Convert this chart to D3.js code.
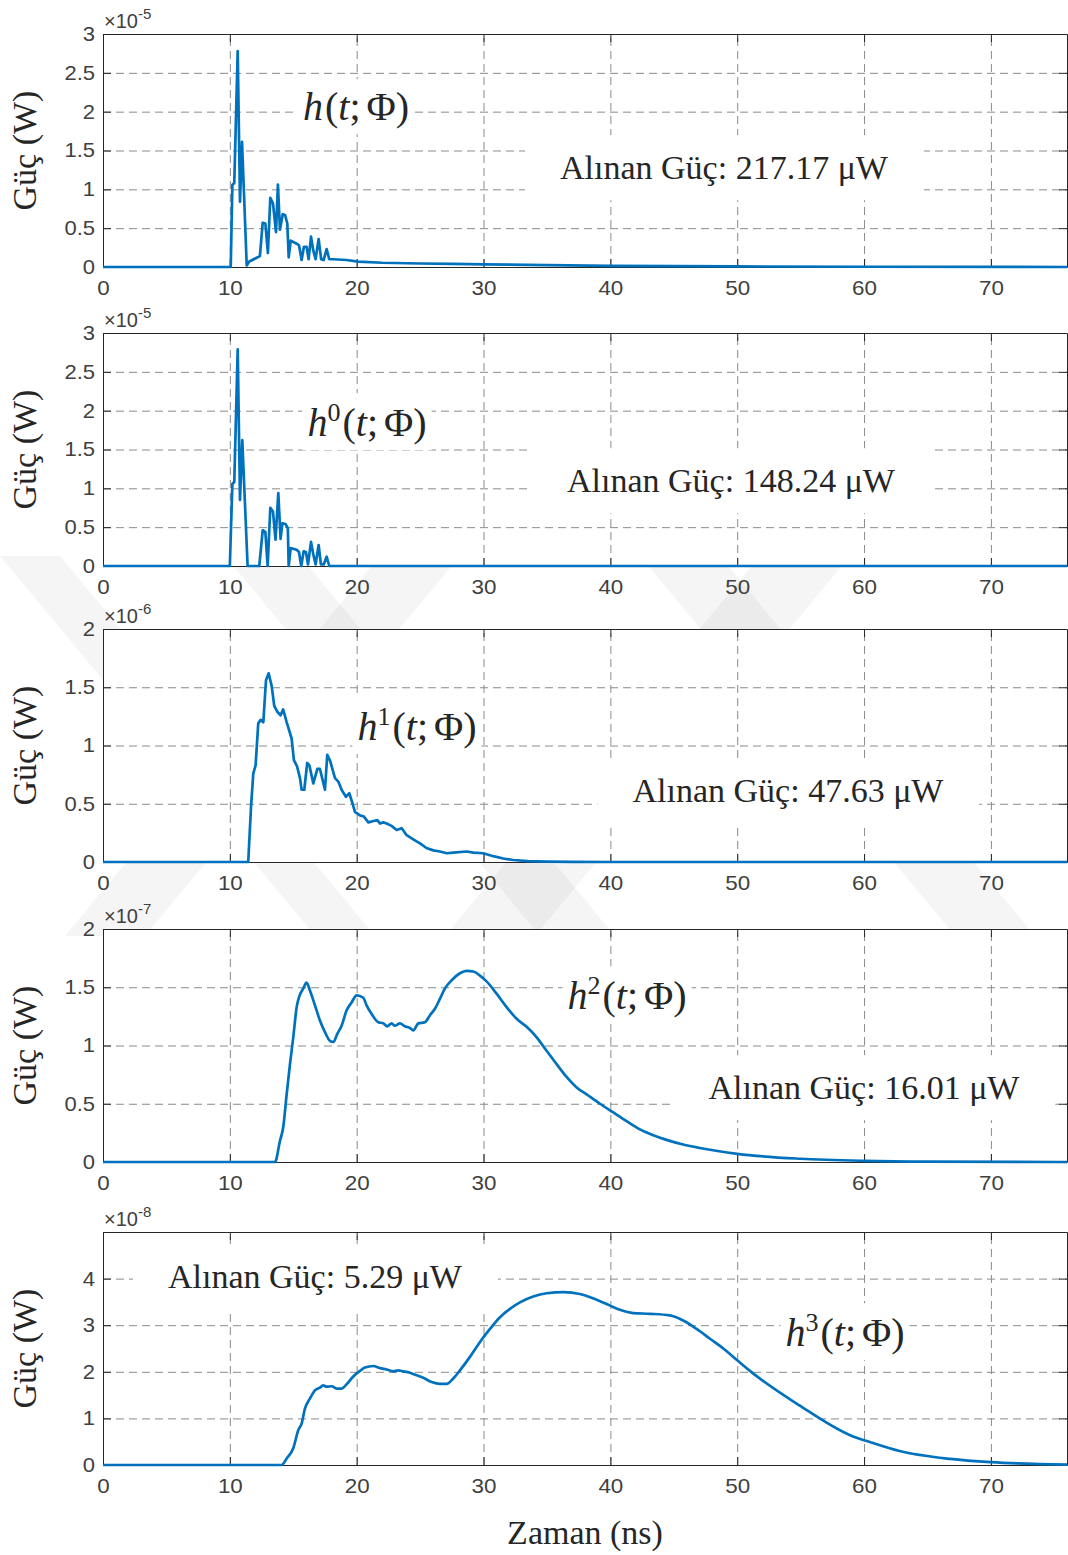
<!DOCTYPE html>
<html>
<head>
<meta charset="utf-8">
<script src="https://cdn.jsdelivr.net/npm/d3@7/dist/d3.min.js"></script>
<style>
  body { margin: 0; background: #fff; }
  text { fill: #262626; }
  .tick text { font-family: "Liberation Sans", Arial, sans-serif; font-size: 20px; fill: #404040; }
  .serif { font-family: "Liberation Serif", "Times New Roman", serif; }
</style>
</head>
<body>
<div id="chart"></div>
<script>
// time axis, ns
var xTicks = [0, 10, 20, 30, 40, 50, 60, 70];

// h(t;Φ)  (x1e-5 W)
var h_t = [0, 10.07, 10.2, 10.35, 10.62, 10.8, 10.96, 11.33, 11.53, 12.37, 12.59, 12.8, 13.0, 13.19, 13.4, 13.64, 13.79, 13.95, 14.17, 14.35, 14.53, 14.64, 14.8, 15.27, 15.45, 15.66, 15.84, 16.05, 16.21, 16.4, 16.58, 16.76, 17.0, 17.2, 17.4, 17.63, 17.84, 18.16, 19.2, 20.1, 22, 25, 27.5, 30, 35, 40, 50, 60, 76];
var h_v = [0, 0, 1.06, 1.08, 2.78, 0.84, 1.61, 0.02, 0.07, 0.14, 0.57, 0.56, 0.18, 0.89, 0.82, 0.45, 1.06, 0.48, 0.68, 0.67, 0.56, 0.125, 0.34, 0.30, 0.28, 0.09, 0.26, 0.26, 0.10, 0.39, 0.21, 0.10, 0.36, 0.10, 0.09, 0.23, 0.10, 0.10, 0.09, 0.07, 0.055, 0.045, 0.04, 0.035, 0.025, 0.015, 0.007, 0.003, 0];

// h0(t;Φ)  (x1e-5 W)
var h0_t = [0, 10.0, 10.2, 10.35, 10.62, 10.8, 10.98, 11.4, 12.32, 12.59, 12.8, 12.98, 13.19, 13.4, 13.6, 13.82, 14.0, 14.14, 14.38, 14.57, 14.64, 14.8, 15.27, 15.45, 15.63, 15.82, 16.0, 16.16, 16.4, 16.58, 16.76, 17.0, 17.18, 17.4, 17.63, 17.84, 76];
var h0_v = [0, 0, 1.06, 1.08, 2.79, 0.85, 1.62, 0, 0, 0.46, 0.44, 0, 0.75, 0.70, 0.34, 0.94, 0.35, 0.55, 0.54, 0.49, 0, 0.23, 0.21, 0.18, 0, 0.19, 0.18, 0.02, 0.31, 0.15, 0.02, 0.27, 0.02, 0.02, 0.12, 0, 0];

// h1(t;Φ)  (x1e-6 W)
var h1_t = [0, 11.45, 11.67, 11.85, 12.03, 12.24, 12.43, 12.64, 12.85, 13.06, 13.3, 13.5, 13.74, 14.0, 14.2, 14.48, 14.87, 15.05, 15.3, 15.53, 15.66, 15.87, 16.1, 16.27, 16.58, 16.9, 17.1, 17.5, 17.68, 17.9, 18.29, 18.55, 18.81, 19.15, 19.42, 19.68, 19.86, 20.26, 20.57, 20.92, 21.26, 21.63, 21.84, 22.1, 22.36, 22.75, 23.15, 23.55, 23.94, 24.46, 24.99, 25.5, 26.04, 26.56, 27.1, 27.6, 28.67, 29.2, 29.98, 30.77, 31.55, 32.35, 33.5, 35, 37, 40, 76];
var h1_v = [0, 0, 0.475, 0.76, 0.83, 1.19, 1.22, 1.20, 1.56, 1.62, 1.51, 1.34, 1.29, 1.26, 1.31, 1.20, 1.06, 0.875, 0.82, 0.72, 0.62, 0.62, 0.85, 0.83, 0.675, 0.80, 0.80, 0.62, 0.92, 0.87, 0.72, 0.69, 0.62, 0.56, 0.59, 0.50, 0.43, 0.40, 0.39, 0.34, 0.35, 0.36, 0.33, 0.34, 0.33, 0.31, 0.275, 0.29, 0.23, 0.195, 0.16, 0.12, 0.10, 0.09, 0.075, 0.08, 0.09, 0.08, 0.075, 0.05, 0.03, 0.017, 0.008, 0.003, 0.001, 0, 0];

// h2(t;Φ)  (x1e-7 W)
var h2_t = [0, 13.56, 13.95, 14.21, 14.48, 14.74, 15.0, 15.27, 15.47, 15.79, 16.05, 16.32, 16.71, 17.1, 17.5, 17.89, 18.16, 18.47, 18.81, 19.2, 19.6, 20.0, 20.52, 20.78, 21.18, 21.7, 22.1, 22.41, 22.76, 23.0, 23.41, 23.8, 24.2, 24.46, 24.86, 25.38, 25.78, 26.17, 26.56, 26.96, 27.49, 28.14, 28.67, 29.19, 29.72, 30.24, 31.03, 31.82, 32.61, 33.4, 34.19, 34.97, 35.76, 36.55, 37.34, 38.13, 39.18, 40.23, 41.28, 42.33, 43.38, 44.43, 45.74, 47.06, 50, 55, 60, 65, 76];
var h2_v = [0, 0, 0.18, 0.30, 0.58, 0.84, 1.07, 1.33, 1.42, 1.49, 1.54, 1.47, 1.345, 1.215, 1.115, 1.04, 1.03, 1.10, 1.17, 1.30, 1.37, 1.43, 1.41, 1.345, 1.27, 1.20, 1.19, 1.165, 1.19, 1.17, 1.19, 1.165, 1.15, 1.13, 1.19, 1.20, 1.26, 1.315, 1.40, 1.49, 1.56, 1.62, 1.64, 1.635, 1.60, 1.55, 1.445, 1.33, 1.23, 1.16, 1.07, 0.955, 0.84, 0.73, 0.64, 0.58, 0.50, 0.425, 0.35, 0.28, 0.23, 0.19, 0.15, 0.12, 0.07, 0.028, 0.01, 0.003, 0];

// h3(t;Φ)  (x1e-8 W)
var h3_t = [0, 14.08, 14.48, 15.0, 15.4, 15.66, 15.92, 16.32, 16.71, 17.1, 17.36, 17.62, 18.03, 18.42, 18.81, 19.2, 19.73, 20.26, 20.65, 21.31, 21.84, 22.36, 22.88, 23.28, 23.67, 24.2, 24.73, 25.25, 25.91, 26.56, 27.09, 27.61, 28.14, 28.93, 29.72, 30.51, 31.3, 32.08, 32.87, 33.92, 34.97, 36.29, 37.6, 38.92, 39.97, 40.75, 41.8, 43.12, 44.69, 45.74, 46.8, 47.85, 48.9, 49.95, 51.0, 54.9, 58.9, 60.5, 62.8, 66.8, 70, 76];
var h3_v = [0, 0, 0.14, 0.36, 0.75, 0.89, 1.21, 1.43, 1.60, 1.66, 1.71, 1.68, 1.69, 1.64, 1.64, 1.73, 1.90, 2.02, 2.09, 2.125, 2.08, 2.05, 2.01, 2.03, 2.01, 1.98, 1.925, 1.87, 1.78, 1.74, 1.74, 1.855, 2.03, 2.32, 2.64, 2.92, 3.17, 3.35, 3.49, 3.615, 3.685, 3.71, 3.67, 3.545, 3.42, 3.33, 3.26, 3.245, 3.21, 3.10, 2.92, 2.71, 2.50, 2.26, 2.02, 1.28, 0.64, 0.49, 0.30, 0.13, 0.06, 0.01];

var seriesT = [h_t, h0_t, h1_t, h2_t, h3_t];
var seriesV = [h_v, h0_v, h1_v, h2_v, h3_v];
var exponents = ["-5", "-5", "-6", "-7", "-8"];
var yMax = [3, 3, 2, 2, 5];
var yTicks = [
  [0, 0.5, 1, 1.5, 2, 2.5, 3],
  [0, 0.5, 1, 1.5, 2, 2.5, 3],
  [0, 0.5, 1, 1.5, 2],
  [0, 0.5, 1, 1.5, 2],
  [0, 1, 2, 3, 4]
];
var hSup = ["", "0", "1", "2", "3"];
var powerValues = ["217.17", "148.24", "47.63", "16.01", "5.29"];

(function () {
  // layout
  var W = 1068, H = 1555;
  var left = 103, right = 1067, panelH = 233;
  var panelTop = [34, 333, 629, 929, 1232];
  var mathPos = [[356, 107], [367, 423], [417, 727], [627, 996], [845, 1333]];
  var notePos = [[724, 168], [731, 481], [788, 791], [864, 1088], [315, 1277]];
  var blue = "#0072BD";
  // faint page watermark stripes behind the axes: [top x0, top x1, bottom x0, bottom x1]
  var wmTop = 556, wmBot = 936;
  var wmBands = [[0, 60, 315, 375], [225, 300, 540, 615], [640, 720, 955, 1035], [380, 460, 65, 145], [760, 850, 445, 535]];

  var svg = d3.select("#chart").append("svg")
    .attr("width", W).attr("height", H);

  svg.append("g").selectAll("path").data(wmBands).join("path")
    .attr("d", function (b) {
      return "M" + b[0] + "," + wmTop + "L" + b[1] + "," + wmTop +
        "L" + b[3] + "," + wmBot + "L" + b[2] + "," + wmBot + "Z";
    })
    .attr("fill", "#000").attr("fill-opacity", 0.04);

  var x = d3.scaleLinear().domain([0, 76]).range([left, right]);

  function stretchText(sel, sx) {
    sel.each(function () {
      var t = d3.select(this);
      var tx = +t.attr("x") || 0, ty = +t.attr("y") || 0;
      t.attr("x", 0).attr("y", 0)
        .attr("transform", "translate(" + tx + "," + ty + ") scale(" + sx + ",1)");
    });
  }

  function styleAxis(g) {
    g.selectAll(".domain").attr("stroke", "#262626").attr("stroke-width", 1);
    g.selectAll(".tick line").attr("stroke", "#262626");
  }

  for (var p = 0; p < 5; p++) {
    var pTop = panelTop[p], pBot = pTop + panelH;
    var y = d3.scaleLinear().domain([0, yMax[p]]).range([pBot, pTop]);
    var g = svg.append("g");

    // white axes background
    g.append("rect").attr("x", left).attr("y", pTop)
      .attr("width", right - left).attr("height", panelH).attr("fill", "#fff");

    // grid
    g.append("g")
      .attr("transform", "translate(0," + pBot + ")")
      .call(d3.axisBottom(x).tickValues(xTicks).tickSize(-panelH).tickFormat(""))
      .call(function (s) { s.select(".domain").remove(); })
      .selectAll("line")
      .attr("stroke", "#8a8a8a").attr("stroke-dasharray", "8,5");
    g.append("g")
      .attr("transform", "translate(" + left + ",0)")
      .call(d3.axisLeft(y).tickValues(yTicks[p]).tickSize(-(right - left)).tickFormat(""))
      .call(function (s) { s.select(".domain").remove(); })
      .selectAll("line")
      .attr("stroke", "#8a8a8a").attr("stroke-dasharray", "8,5");

    // box axes
    var ax = g.append("g").attr("transform", "translate(0," + pBot + ")")
      .call(d3.axisBottom(x).tickValues(xTicks).tickSize(-8).tickSizeOuter(0).tickPadding(14));
    styleAxis(ax);
    stretchText(ax.selectAll(".tick text"), 1.12);
    var ay = g.append("g").attr("transform", "translate(" + left + ",0)")
      .call(d3.axisLeft(y).tickValues(yTicks[p]).tickSize(-8).tickSizeOuter(0).tickPadding(8).tickFormat(d3.format("~g")));
    styleAxis(ay);
    stretchText(ay.selectAll(".tick text"), 1.1);
    styleAxis(g.append("g").attr("transform", "translate(0," + pTop + ")")
      .call(d3.axisTop(x).tickValues(xTicks).tickSize(-8).tickSizeOuter(0).tickFormat("")));
    styleAxis(g.append("g").attr("transform", "translate(" + right + ",0)")
      .call(d3.axisRight(y).tickValues(yTicks[p]).tickSize(-8).tickSizeOuter(0).tickFormat("")));

    // exponent
    var ex = g.append("text").attr("x", left + 1).attr("y", pTop - 6)
      .style("font-family", "Liberation Sans, Arial, sans-serif").style("font-size", "20px").style("fill", "#404040");
    ex.append("tspan").text("\u00d710");
    ex.append("tspan").attr("dy", -9).style("font-size", "15px").text(exponents[p]);

    // data line
    var pts = seriesT[p].map(function (t, i) { return [t, seriesV[p][i]]; });
    g.append("path").datum(pts)
      .attr("fill", "none").attr("stroke", blue).attr("stroke-width", 2.7)
      .attr("stroke-linejoin", "round")
      .attr("d", d3.line().x(function (d) { return x(d[0]); }).y(function (d) { return y(d[1]); })
        .curve(p >= 3 ? d3.curveMonotoneX : d3.curveLinear));

    // math label with white box
    var mg = g.append("g");
    var mt = mg.append("text").attr("class", "serif")
      .attr("x", mathPos[p][0]).attr("y", mathPos[p][1]).attr("dy", "0.33em")
      .attr("text-anchor", "middle").style("font-size", "40px");
    mt.append("tspan").style("font-style", "italic").text("h");
    if (hSup[p]) mt.append("tspan").attr("dy", -15).style("font-size", "26px").text(hSup[p]);
    mt.append("tspan").attr("dy", hSup[p] ? 15 : 0).attr("dx", 2).text("(");
    mt.append("tspan").style("font-style", "italic").text("t");
    mt.append("tspan").text(";");
    mt.append("tspan").attr("dx", 6).text("\u03a6");
    mt.append("tspan").text(")");
    var bb = mt.node().getBBox();
    mg.insert("rect", "text").attr("x", bb.x - 5).attr("y", bb.y - 5)
      .attr("width", bb.width + 10).attr("height", bb.height + 10).attr("fill", "#fff");

    // received power note
    var ng = g.append("g");
    var nt = ng.append("text").attr("class", "serif")
      .attr("x", notePos[p][0]).attr("y", notePos[p][1]).attr("dy", "0.33em")
      .attr("text-anchor", "middle").style("font-size", "34px")
      .text("Al\u0131nan G\u00fc\u00e7: " + powerValues[p] + " \u03bcW");
    bb = nt.node().getBBox();
    ng.insert("rect", "text").attr("x", bb.x - 35).attr("y", bb.y - 14)
      .attr("width", bb.width + 70).attr("height", bb.height + 28).attr("fill", "#fff");

    // y label
    svg.append("text").attr("class", "serif")
      .attr("transform", "translate(36," + (pTop + panelH / 2) + ") rotate(-90)")
      .attr("text-anchor", "middle").style("font-size", "34px")
      .text("G\u00fc\u00e7 (W)");
  }

  svg.append("text").attr("class", "serif")
    .attr("x", (left + right) / 2).attr("y", 1544)
    .attr("text-anchor", "middle").style("font-size", "34px")
    .text("Zaman (ns)");
})();
</script>
</body>
</html>
